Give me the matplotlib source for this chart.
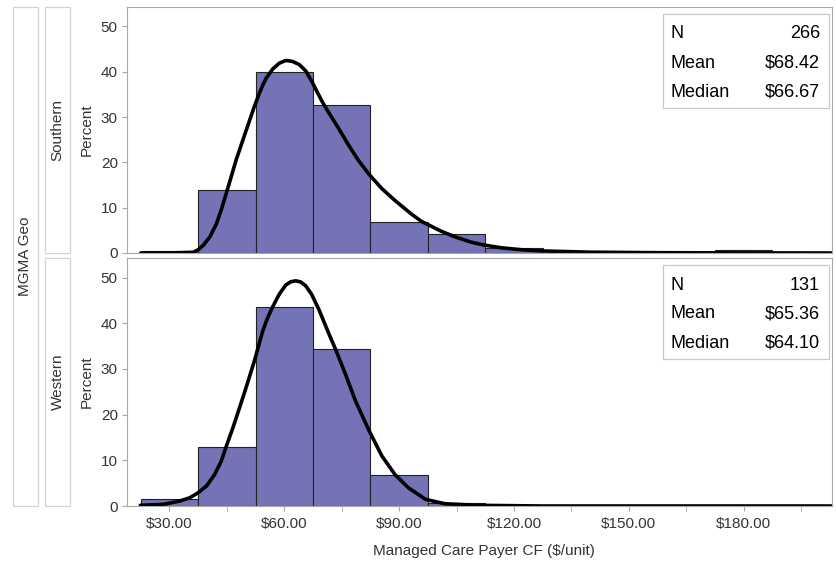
"""Panel histogram of Managed Care Payer CF by MGMA Geo region."""

import matplotlib

matplotlib.use("Agg")
import matplotlib.pyplot as plt
from matplotlib.patches import Rectangle


BIN_EDGES = [22.5, 37.5, 52.5, 67.5, 82.5, 97.5, 112.5, 127.5, 142.5, 157.5, 172.5, 187.5, 202.5]

SOUTH_PCT = [0.38, 13.9, 39.85, 32.7, 6.77, 4.14, 1.13, 0.0, 0.38, 0.0, 0.75, 0.0]
WEST_PCT = [1.53, 12.98, 43.5, 34.35, 6.87, 0.76, 0.0, 0.0, 0.0, 0.0, 0.0, 0.0]

# density curves
SOUTH_CURVE_X = [22.5, 30.0, 36.2, 37.5, 38.8, 40.5, 42.25, 43.55, 44.85, 46.15,
                 47.4, 49.2, 50.9, 52.2, 53.5, 54.35, 55.2, 56.95, 58.7, 60.4,
                 62.1, 63.9, 65.6, 67.1, 69.05, 69.9, 71.6, 74.2, 76.8, 79.4,
                 82.2, 85.5, 88.9, 93.2, 95.8, 101.0, 104.5, 108.8, 111.9, 116.6,
                 121.8, 127.8, 140.0, 155.0, 175.0, 203.0]
SOUTH_CURVE_Y = [0.0, 0.0, 0.15, 0.73, 1.67, 3.5, 6.4, 9.6, 13.2, 16.9,
                 20.5, 25.0, 29.2, 32.4, 35.3, 37.0, 38.5, 40.6, 41.9, 42.5,
                 42.3, 41.6, 40.2, 38.0, 34.8, 33.4, 31.0, 27.5, 23.8, 20.4,
                 17.3, 14.2, 11.6, 8.6, 7.0, 4.8, 3.6, 2.4, 1.8, 1.16,
                 0.73, 0.44, 0.18, 0.07, 0.03, 0.0]

WEST_CURVE_X = [22.4, 28.4, 32.75, 35.3, 37.5, 39.7, 41.8, 43.55, 44.85,
                46.6, 48.3, 50.0, 52.2, 54.35, 55.65, 56.95, 58.7, 60.4, 61.7,
                63.0, 64.3, 65.6, 67.1, 69.05, 71.6, 73.4, 76.0, 78.6, 82.2,
                85.5, 88.9, 92.4, 96.9, 101.9, 110.5, 127.8, 203.0]
WEST_CURVE_Y = [0.15, 0.36, 1.1, 1.8, 2.9, 4.4, 6.9, 9.85, 13.1,
                17.2, 21.5, 25.9, 31.8, 38.3, 41.2, 43.6, 46.4, 48.4, 49.1,
                49.3, 49.05, 48.2, 46.4, 43.0, 37.8, 34.3, 28.8, 23.0, 16.4,
                10.95, 6.9, 4.0, 1.46, 0.5, 0.15, 0.0, 0.0]

REGIONS = ["Southern", "Western"]
STATS = [
    [("N", "266"), ("Mean", "$68.42"), ("Median", "$66.67")],
    [("N", "131"), ("Mean", "$65.36"), ("Median", "$64.10")],
]

X_TICKS = [30, 60, 90, 120, 150, 180]
X_TICK_LABELS = ["$30.00", "$60.00", "$90.00", "$120.00", "$150.00", "$180.00"]
X_MINOR = [45, 75, 105, 135, 165, 195]
Y_TICKS = [0, 10, 20, 30, 40, 50]

BAR_COLOR = "#7373b5"
FRAME = "#a8a8a8"
TEXT = "#333333"


def main():
    plt.rcParams["font.family"] = ["Liberation Sans", "DejaVu Sans"]
    W, H = 837, 563
    fig = plt.figure(figsize=(W / 100, H / 100), dpi=100)

    left, right = 127 / W, 832 / W
    panels = [(7, 253), (258, 506)]
    data = [
        (SOUTH_PCT, SOUTH_CURVE_X, SOUTH_CURVE_Y),
        (WEST_PCT, WEST_CURVE_X, WEST_CURVE_Y),
    ]

    widths = [b - a for a, b in zip(BIN_EDGES[:-1], BIN_EDGES[1:])]
    for i, ((top, bot), (pct, cx, cy)) in enumerate(zip(panels, data)):
        ax = fig.add_axes([left, 1 - bot / H, right - left, (bot - top) / H])
        ax.bar(BIN_EDGES[:-1], pct, width=widths, align="edge", color=BAR_COLOR,
               edgecolor="#222222", linewidth=0.8)
        ax.plot(cx, cy, color="black", linewidth=2.6, solid_capstyle="round",
                solid_joinstyle="round")
        ax.set_xlim(18.9, 203.1)
        ax.set_ylim(0, 54.3)
        ax.set_yticks(Y_TICKS)
        ax.set_xticks(X_TICKS)
        ax.set_xticks(X_MINOR, minor=True)
        for sp in ax.spines.values():
            sp.set_color(FRAME)
        ax.tick_params(axis="both", which="both", colors=FRAME, labelcolor=TEXT,
                       labelsize=11, length=3.6, pad=3)
        ax.tick_params(axis="x", which="major", pad=4.5)
        ax.set_ylabel("Percent", color=TEXT, fontsize=11, labelpad=5)
        if i == 0:
            ax.tick_params(axis="x", which="both", bottom=False, labelbottom=False)
        else:
            ax.set_xticklabels(X_TICK_LABELS)
            ax.set_xlabel("Managed Care Payer CF ($/unit)", color=TEXT, fontsize=11,
                          labelpad=7)
            ax.xaxis.set_label_coords(0.5 + 4 / (right - left) / W, -0.155)

        # inset statistics table
        bx0, bx1 = 663 / W, 829 / W
        by_top = (top + 7) / H
        by_bot = (top + 101) / H
        fig.patches.append(Rectangle((bx0, 1 - by_bot), bx1 - bx0, by_bot - by_top,
                                     transform=fig.transFigure, facecolor="white",
                                     edgecolor="#c8c8c8", linewidth=0.9, zorder=5))
        for j, (lab, val) in enumerate(STATS[i]):
            yy = 1 - (top + 27 + j * 29) / H
            fig.text(671 / W, yy, lab, fontsize=13, color="black", va="center",
                     ha="left", zorder=6)
            fig.text(820 / W, yy, val, fontsize=13, color="black", va="center",
                     ha="right", zorder=6)

        # row header box
        fig.patches.append(Rectangle((45 / W, 1 - bot / H), 25 / W, (bot - top) / H,
                                     transform=fig.transFigure, facecolor="white",
                                     edgecolor="#d4d4d4", linewidth=0.9))
        fig.text(57.5 / W, 1 - (top + bot) / 2 / H, REGIONS[i], rotation=90,
                 fontsize=11, color=TEXT, ha="center", va="center")

    fig.patches.append(Rectangle((13 / W, 1 - 506 / H), 25 / W, (506 - 7) / H,
                                 transform=fig.transFigure, facecolor="white",
                                 edgecolor="#d4d4d4", linewidth=0.9))
    fig.text(25.5 / W, 1 - 256.5 / H, "MGMA Geo", rotation=90, fontsize=11,
             color=TEXT, ha="center", va="center")

    fig.savefig("out.png", dpi=100)
    plt.close(fig)


if __name__ == "__main__":
    main()
